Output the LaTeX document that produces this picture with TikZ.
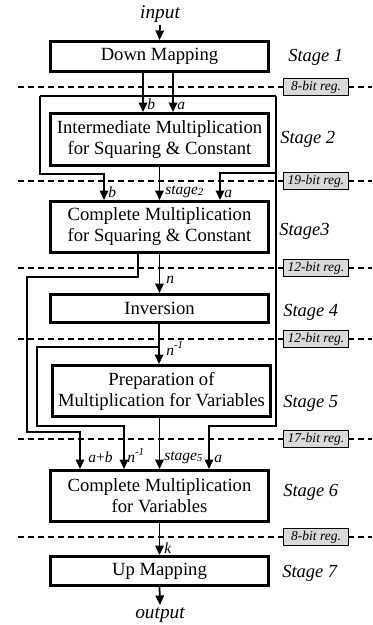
\documentclass[tikz,border=0pt]{standalone}
\usepackage{fontspec}
\setmainfont{Liberation Serif}
\usetikzlibrary{arrows.meta, calc}

\begin{document}
\begin{tikzpicture}[
    x=0.02cm, y=-0.02cm, % pixel-like units, y grows downwards
    >={Triangle[length=0.19cm, width=0.17cm]}, % filled arrow heads
    box/.style={draw, line width=0.06cm, minimum width=4.36cm, align=center, inner sep=0pt, font=\fontsize{10.6}{12}\selectfont},
    wire/.style={line width=0.035cm},
    regline/.style={line width=0.035cm, dash pattern=on 0.12cm off 0.08cm},
    reg/.style={draw, fill=gray!30, line width=0.035cm, minimum width=1.3cm, minimum height=0.34cm, inner sep=0pt, font=\fontsize{7.7}{9}\selectfont\itshape},
    lbl/.style={anchor=base west, inner sep=0pt, font=\fontsize{8.8}{10}\selectfont\itshape},
    stg/.style={anchor=base west, inner sep=0pt, font=\fontsize{10.5}{12}\selectfont\itshape},
    io/.style={anchor=base, inner sep=1pt, font=\fontsize{11}{12}\selectfont\itshape}
]
\useasboundingbox (0,0) rectangle (372,625);

% Pipeline register boundaries
\draw[regline] (18,87) -- (372,87);
\draw[regline] (18,181) -- (372,181);
\draw[regline] (18,268) -- (372,268);
\draw[regline] (18,339) -- (372,339);
\draw[regline] (18,439) -- (372,439);
\draw[regline] (18,537) -- (372,537);
\node[reg] (r1) at (316,87) {8-bit reg.};
\node[reg] (r2) at (316,181) {19-bit reg.};
\node[reg] (r3) at (316,268) {12-bit reg.};
\node[reg] (r4) at (316,339) {12-bit reg.};
\node[reg] (r5) at (316,439) {17-bit reg.};
\node[reg] (r6) at (316,537) {8-bit reg.};

% Stage blocks
\node[box, minimum height=0.6cm] (dm) at (159.5,56.5) {Down Mapping};
\node[box, minimum height=1.04cm] (im) at (159.5,139.5) {Intermediate Multiplication\\for Squaring \& Constant};
\node[box, minimum height=1.02cm] (cm) at (159.5,227) {Complete Multiplication\\for Squaring \& Constant};
\node[box, minimum height=0.56cm] (inv) at (159.5,308.5) {Inversion};
\node[box, minimum height=1.02cm] (prep) at (161.5,391) {Preparation of\\Multiplication for Variables};
\node[box, minimum height=1.02cm] (cmv) at (159.5,496) {Complete Multiplication\\for Variables};
\node[box, minimum height=0.58cm] (um) at (159.5,571) {Up Mapping};

% Stage names
\node[stg] (s1) at (288,62) {Stage 1};
\node[stg] (s2) at (280,143) {Stage 2};
\node[stg] (s3) at (279,235) {Stage3};
\node[stg] (s4) at (283,316) {Stage 4};
\node[stg] (s5) at (283,407) {Stage 5};
\node[stg] (s6) at (283,496) {Stage 6};
\node[stg] (s7) at (282,577) {Stage 7};

% Input and output
\node[io] (in) at (160,19) {input};
\node[io] (out) at (160,618) {output};
\draw[wire,->] (in.south) -- (dm.north);
\draw[wire,->] (um.south) -- (out.north);

% Operands a and b after down mapping
\coordinate (tb) at (143,96);
\coordinate (ta) at (173,96);
\coordinate (busL) at (40,96);
\coordinate (busR) at (276,96);
\draw[wire] (busL) -- (busR);
\draw[wire,->] (dm.south -| tb) -- (im.north -| tb);
\draw[wire,->] (dm.south -| ta) -- (im.north -| ta);

% b and a forwarded to stage 3, a also to stage 6
\coordinate (b3) at (104,174);
\coordinate (a3) at (220,173);
\coordinate (a6) at (209,426);
\draw[wire,->] (busL) |- (b3) -- (cm.north -| b3);
\draw[wire,->] (busR |- a3) -- (a3) -- (cm.north -| a3);
\draw[wire,->] (busR) |- (a6) -- (cmv.north -| a6);

% stage_2 and n
\draw[wire,->] (im.south) -- (cm.north);
\draw[wire,->] (cm.south) -- (inv.north);

% a+b bypass to stage 6
\coordinate (ab) at (138,277);
\coordinate (abL) at (27,432);
\coordinate (ab6) at (80,432);
\draw[wire,->] (cm.south -| ab) -- (ab) -| (abL) -- (ab6) -- (cmv.north -| ab6);

% n^-1 to stage 5 and bypass to stage 6
\coordinate (ni) at (159,347);
\coordinate (niL) at (37,426);
\coordinate (ni6) at (124,426);
\draw[wire,->] (inv.south -| ni) -- (prep.north -| ni);
\draw[wire,->] (ni) -| (niL) -- (ni6) -- (cmv.north -| ni6);

% stage_5 and k
\draw[wire,->] (prep.south -| cmv.north) -- (cmv.north);
\draw[wire,->] (cmv.south) -- (um.north);

% Signal names
\node[lbl] (lb1) at (147,110) {b};
\node[lbl] (la1) at (177,110) {a};
\node[lbl] (lb3) at (108,197) {b};
\node[lbl] (ls2) at (165,194) {stage\textsubscript{2}};
\node[lbl] (la3) at (224,197) {a};
\node[lbl] (ln) at (166,283) {n};
\node[lbl] (lni) at (166,355) {n\textsuperscript{-1}};
\node[lbl] (lab) at (88,462) {a\textup{+}b};
\node[lbl] (lni6) at (127,462) {n\textsuperscript{-1}};
\node[lbl] (ls5) at (164,460) {stage\textsubscript{5}};
\node[lbl] (la6) at (214,462) {a};
\node[lbl] (lk) at (164,553) {k};

\end{tikzpicture}
\end{document}
